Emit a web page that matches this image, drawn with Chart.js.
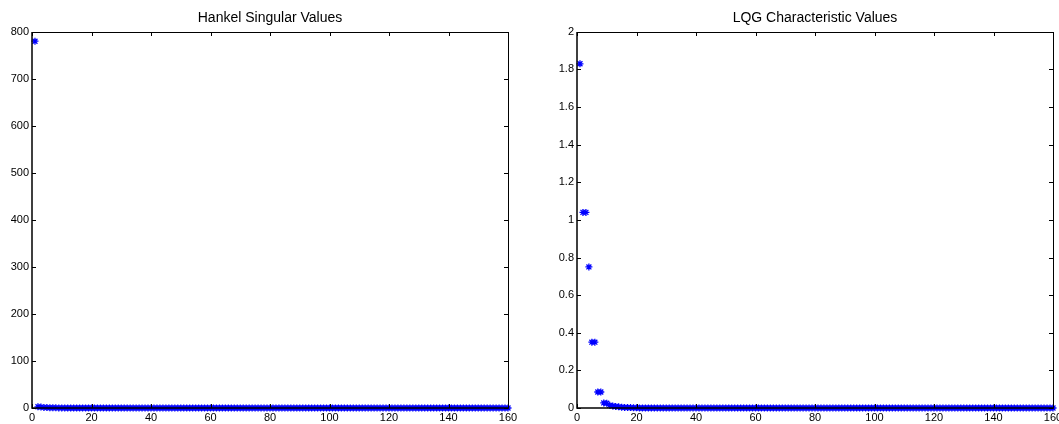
<!DOCTYPE html>
<html>
<head>
<meta charset="utf-8">
<script src="https://cdn.jsdelivr.net/npm/chart.js@4.4.1/dist/chart.umd.min.js"></script>
<style>
  html, body { margin: 0; padding: 0; background: #fff; overflow: hidden; width: 1059px; height: 424px; }
  .box { position: absolute; top: 0; height: 424px; }
</style>
</head>
<body>
<div class="box" style="left:0; width:530px;"><canvas id="hankelChart"></canvas></div>
<div class="box" style="left:530px; width:540px;"><canvas id="lqgChart"></canvas></div>
<script>
// State index 1..160
const stateIndex = [];
for (let i = 1; i <= 160; i++) stateIndex.push(i);

// Hankel singular values (everything after the first sits on zero)
const hankelValues = [
    780, 2.6, 1.9, 1.2, 0.85, 0.6, 0.42, 0.3, 0.21, 0.15,
    0.11, 0.08, 0.06, 0.05, 0.04, 0.03, 0.02, 0.02, 0.01, 0.01,
    0, 0, 0, 0, 0, 0, 0, 0, 0, 0,
    0, 0, 0, 0, 0, 0, 0, 0, 0, 0,
    0, 0, 0, 0, 0, 0, 0, 0, 0, 0,
    0, 0, 0, 0, 0, 0, 0, 0, 0, 0,
    0, 0, 0, 0, 0, 0, 0, 0, 0, 0,
    0, 0, 0, 0, 0, 0, 0, 0, 0, 0,
    0, 0, 0, 0, 0, 0, 0, 0, 0, 0,
    0, 0, 0, 0, 0, 0, 0, 0, 0, 0,
    0, 0, 0, 0, 0, 0, 0, 0, 0, 0,
    0, 0, 0, 0, 0, 0, 0, 0, 0, 0,
    0, 0, 0, 0, 0, 0, 0, 0, 0, 0,
    0, 0, 0, 0, 0, 0, 0, 0, 0, 0,
    0, 0, 0, 0, 0, 0, 0, 0, 0, 0,
    0, 0, 0, 0, 0, 0, 0, 0, 0, 0
];

// LQG characteristic values
const lqgValues = [
    1.83, 1.04, 1.04, 0.75, 0.35, 0.35, 0.085, 0.085, 0.027, 0.025,
    0.014, 0.011, 0.008, 0.006, 0.004, 0.003, 0.002, 0.002, 0.001, 0.001,
    0, 0, 0, 0, 0, 0, 0, 0, 0, 0,
    0, 0, 0, 0, 0, 0, 0, 0, 0, 0,
    0, 0, 0, 0, 0, 0, 0, 0, 0, 0,
    0, 0, 0, 0, 0, 0, 0, 0, 0, 0,
    0, 0, 0, 0, 0, 0, 0, 0, 0, 0,
    0, 0, 0, 0, 0, 0, 0, 0, 0, 0,
    0, 0, 0, 0, 0, 0, 0, 0, 0, 0,
    0, 0, 0, 0, 0, 0, 0, 0, 0, 0,
    0, 0, 0, 0, 0, 0, 0, 0, 0, 0,
    0, 0, 0, 0, 0, 0, 0, 0, 0, 0,
    0, 0, 0, 0, 0, 0, 0, 0, 0, 0,
    0, 0, 0, 0, 0, 0, 0, 0, 0, 0,
    0, 0, 0, 0, 0, 0, 0, 0, 0, 0,
    0, 0, 0, 0, 0, 0, 0, 0, 0, 0
];

// Tick labels
const xTicks = [0, 20, 40, 60, 80, 100, 120, 140, 160];
const hankelTicks = [0, 100, 200, 300, 400, 500, 600, 700, 800];
const lqgTicks = [0, 0.2, 0.4, 0.6, 0.8, 1, 1.2, 1.4, 1.6, 1.8, 2];

const FONT = "'Liberation Sans', Arial, Helvetica, sans-serif";

// Box around the plot area with MATLAB-style inward ticks on every side
const boxTicks = {
    id: 'boxTicks',
    afterDatasetsDraw(chart) {
        const { ctx, chartArea: a, scales } = chart;
        const len = 4;
        const L = Math.round(a.left), R = Math.round(a.right);
        const T = Math.round(a.top), B = Math.round(a.bottom);
        ctx.save();
        ctx.strokeStyle = '#000';
        ctx.lineWidth = 1;
        ctx.beginPath();
        scales.x.ticks.forEach(t => {
            const px = Math.round(scales.x.getPixelForValue(t.value)) + 0.5;
            ctx.moveTo(px, B); ctx.lineTo(px, B - len);
            ctx.moveTo(px, T); ctx.lineTo(px, T + len);
        });
        scales.y.ticks.forEach(t => {
            const py = Math.round(scales.y.getPixelForValue(t.value)) + 0.5;
            ctx.moveTo(L, py); ctx.lineTo(L + len, py);
            ctx.moveTo(R, py); ctx.lineTo(R - len, py);
        });
        // top and right edges, thin
        ctx.moveTo(L, T + 0.5); ctx.lineTo(R, T + 0.5);
        ctx.moveTo(R + 0.5, T); ctx.lineTo(R + 0.5, B);
        ctx.stroke();
        // left and bottom axis lines, a bit heavier
        ctx.lineWidth = 1.5;
        ctx.beginPath();
        ctx.moveTo(L, T); ctx.lineTo(L, B); ctx.lineTo(R + 1, B);
        ctx.stroke();
        ctx.restore();
    }
};

function makeChart(canvasId, title, values, yMax, yTicks, yWidth, padRight) {
    const points = stateIndex.map((x, i) => ({ x: x, y: values[i] }));
    return new Chart(document.getElementById(canvasId), {
        type: 'scatter',
        data: {
            datasets: [{
                data: points,
                pointStyle: 'star',
                radius: 3.5,
                borderColor: '#0000ff',
                backgroundColor: '#0000ff',
                borderWidth: 1.3,
                clip: false
            }]
        },
        options: {
            responsive: true,
            maintainAspectRatio: false,
            animation: false,
            events: [],
            layout: { padding: { left: 0, right: padRight, top: 0, bottom: 0 } },
            plugins: {
                legend: { display: false },
                tooltip: { enabled: false },
                title: {
                    display: true,
                    text: title,
                    fullSize: false,
                    color: '#000',
                    font: { family: FONT, size: 14, weight: 'normal' },
                    padding: { top: 10, bottom: 5 }
                }
            },
            scales: {
                x: {
                    type: 'linear',
                    min: 0,
                    max: 160,
                    afterBuildTicks: s => { s.ticks = xTicks.map(v => ({ value: v })); },
                    afterFit: s => { s.height = 16; },
                    grid: { display: false, drawTicks: false },
                    border: { display: false },
                    ticks: {
                        color: '#000',
                        padding: 3,
                        maxRotation: 0,
                        font: { family: FONT, size: 11 },
                        callback: v => String(v)
                    }
                },
                y: {
                    type: 'linear',
                    min: 0,
                    max: yMax,
                    afterBuildTicks: s => { s.ticks = yTicks.map(v => ({ value: v })); },
                    afterFit: s => { s.width = yWidth; },
                    grid: { display: false, drawTicks: false },
                    border: { display: false },
                    ticks: {
                        color: '#000',
                        padding: 3,
                        font: { family: FONT, size: 11 },
                        callback: v => String(v)
                    }
                }
            }
        },
        plugins: [boxTicks]
    });
}

makeChart('hankelChart', 'Hankel Singular Values', hankelValues, 800, hankelTicks, 32, 22);
makeChart('lqgChart', 'LQG Characteristic Values', lqgValues, 2, lqgTicks, 47, 17);
</script>
</body>
</html>
